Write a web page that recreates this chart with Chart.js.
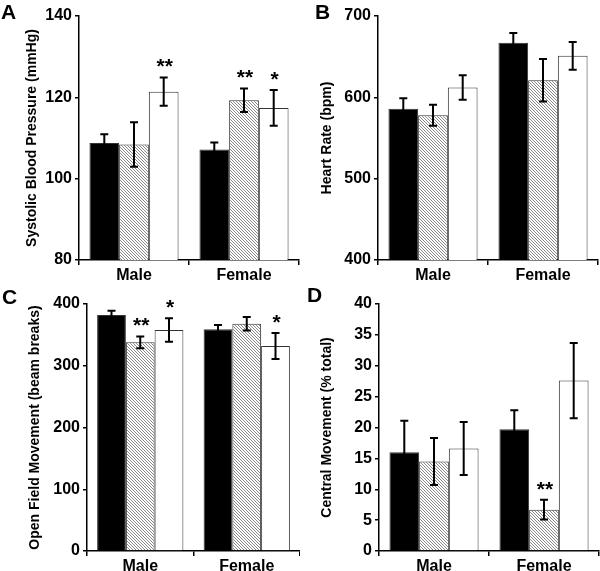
<!DOCTYPE html>
<html>
<head>
<meta charset="utf-8">
<script src="https://cdn.jsdelivr.net/npm/chart.js@4/dist/chart.umd.min.js"></script>
<style>
body { margin: 0; background: #fff; }
canvas { position: absolute; }
</style>
</head>
<body>
<canvas id="chartA" width="300" height="285" style="left:0;top:0"></canvas>
<canvas id="chartB" width="300" height="285" style="left:300px;top:0"></canvas>
<canvas id="chartC" width="300" height="286" style="left:0;top:285px"></canvas>
<canvas id="chartD" width="300" height="286" style="left:300px;top:285px"></canvas>
<script>
const categories = ['Male', 'Female'];
const groups = ['Group 1', 'Group 2', 'Group 3'];

// rows: black, hatched, white
const bpMeans = [[108.8, 107.2], [108.4, 119.3], [121.4, 117.4]];
const bpErr = [[2.1, 1.7], [5.5, 2.9], [3.5, 4.4]];
const bpStars = [['', ''], ['', '**'], ['**', '*']];

const hrMeans = [[586, 667], [578, 621], [612, 651]];
const hrErr = [[13, 12], [13, 26], [15, 17]];
const hrStars = [['', ''], ['', ''], ['', '']];

const ofMeans = [[382, 359], [338, 368], [358, 332]];
const ofErr = [[7, 7], [9.5, 11], [19, 21]];
const ofStars = [['', ''], ['**', ''], ['*', '*']];

const cmMeans = [[16.0, 19.7], [14.5, 6.7], [16.6, 27.6]];
const cmErr = [[5.1, 3.1], [3.8, 1.6], [4.3, 6.1]];
const cmStars = [['', ''], ['', '**'], ['', '']];

const FONT = '"Liberation Sans", Arial, sans-serif';

function hatch() {
    const c = document.createElement('canvas');
    c.width = 3; c.height = 3;
    const g = c.getContext('2d');
    g.fillStyle = '#fff';
    g.fillRect(0, 0, 3, 3);
    g.strokeStyle = '#888';
    g.lineWidth = 1;
    g.beginPath();
    g.moveTo(-1, -1); g.lineTo(4, 4);
    g.moveTo(2, -1); g.lineTo(4, 1);
    g.moveTo(-1, 2); g.lineTo(1, 4);
    g.stroke();
    return g.createPattern(c, 'repeat');
}

function overlay(errs, stars, letter, lx, ly) {
    return {
        id: 'overlay',
        afterDatasetsDraw(chart) {
            const ctx = chart.ctx;
            const y = chart.scales.y;
            ctx.save();
            ctx.strokeStyle = '#000';
            ctx.lineWidth = 2;
            chart.data.datasets.forEach((ds, i) => {
                chart.getDatasetMeta(i).data.forEach((bar, j) => {
                    const v = ds.data[j], e = errs[i][j];
                    const top = y.getPixelForValue(v + e);
                    const bot = y.getPixelForValue(v - e);
                    ctx.beginPath();
                    ctx.moveTo(bar.x, top); ctx.lineTo(bar.x, bot);
                    ctx.moveTo(bar.x - 4, top); ctx.lineTo(bar.x + 4, top);
                    ctx.moveTo(bar.x - 4, bot); ctx.lineTo(bar.x + 4, bot);
                    ctx.stroke();
                    if (stars[i][j]) {
                        ctx.fillStyle = '#000';
                        ctx.font = 'bold 21px ' + FONT;
                        ctx.textAlign = 'center';
                        ctx.textBaseline = 'alphabetic';
                        ctx.fillText(stars[i][j], bar.x + 1, top - 4);
                    }
                });
            });
            ctx.fillStyle = '#000';
            ctx.font = 'bold 21px ' + FONT;
            ctx.textAlign = 'left';
            ctx.textBaseline = 'top';
            ctx.fillText(letter, lx, ly);
            ctx.restore();
        }
    };
}

function panel(id, p) {
    const canvas = document.getElementById(id);
    const W = canvas.width, H = canvas.height;
    const fills = ['#000', hatch(), '#fff'];
    new Chart(canvas, {
        type: 'bar',
        data: {
            labels: categories,
            datasets: p.means.map((m, i) => ({
                label: groups[i],
                data: m,
                backgroundColor: fills[i],
                borderColor: '#333',
                borderWidth: 1,
                barPercentage: 1,
                categoryPercentage: 0.81
            }))
        },
        options: {
            responsive: false,
            animation: false,
            layout: { padding: { left: 0, top: p.top, right: W - p.right, bottom: 0 } },
            plugins: { legend: { display: false }, tooltip: { enabled: false } },
            scales: {
                x: {
                    grid: { offset: true, drawOnChartArea: false, tickLength: 5, color: '#000', lineWidth: 1.5 },
                    border: { color: '#000', width: 1.5 },
                    ticks: { color: '#000', padding: 1, font: { family: FONT, size: 16, weight: 'bold' } },
                    afterFit(s) { s.height = H - p.bottom; }
                },
                y: {
                    min: p.min, max: p.max,
                    ticks: { stepSize: p.step, color: '#000', padding: 3, font: { family: FONT, size: 16, weight: 'bold' } },
                    grid: { drawOnChartArea: false, tickLength: 4, color: '#000', lineWidth: 1.5 },
                    border: { color: '#000', width: 1.5 },
                    title: {
                        display: true, text: p.title, color: '#000',
                        font: { family: FONT, size: 14, weight: 'bold' },
                        padding: { top: p.titleX - 8.4, bottom: 0 }
                    },
                    afterFit(s) { s.width = p.left; }
                }
            }
        },
        plugins: [overlay(p.errs, p.stars, p.letter, p.lx, p.ly)]
    });
}

panel('chartA', { means: bpMeans, errs: bpErr, stars: bpStars, min: 80, max: 140, step: 20,
    title: 'Systolic Blood Pressure (mmHg)', letter: 'A', lx: 1, ly: 3,
    left: 79, right: 299, top: 16, bottom: 260, titleX: 32 });
panel('chartB', { means: hrMeans, errs: hrErr, stars: hrStars, min: 400, max: 700, step: 100,
    title: 'Heart Rate (bpm)', letter: 'B', lx: 15, ly: 3,
    left: 78, right: 298, top: 16, bottom: 260, titleX: 27.5 });
panel('chartC', { means: ofMeans, errs: ofErr, stars: ofStars, min: 0, max: 400, step: 100,
    title: 'Open Field Movement (beam breaks)', letter: 'C', lx: 2, ly: 3,
    left: 87, right: 300, top: 19, bottom: 266, titleX: 35 });
panel('chartD', { means: cmMeans, errs: cmErr, stars: cmStars, min: 0, max: 40, step: 5,
    title: 'Central Movement (% total)', letter: 'D', lx: 7, ly: 1,
    left: 79, right: 299, top: 19, bottom: 266, titleX: 27.5 });
</script>
</body>
</html>
